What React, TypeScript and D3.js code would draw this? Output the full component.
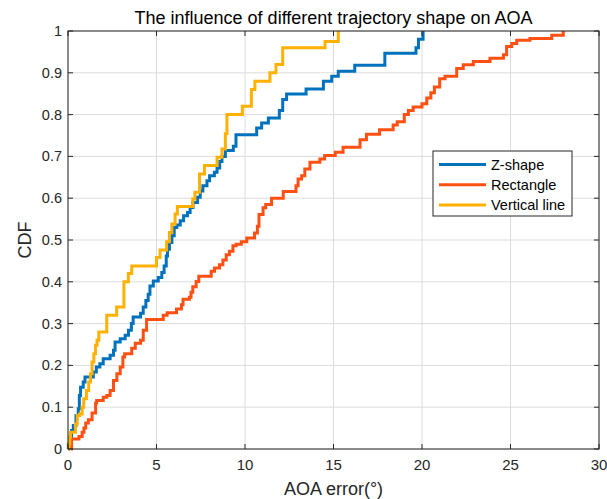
import React from "react";
import * as d3 from "d3";

// Empirical CDF steps: error value (deg) and cumulative probability after the step
const zShapeX = [0.0, 0.02, 0.1, 0.2, 0.3, 0.45, 0.58, 0.64, 0.71, 0.86, 0.96, 1.43, 1.6, 1.8, 1.99, 2.38, 2.57, 2.66, 2.95, 3.23, 3.42, 3.58, 3.68, 4.1, 4.25, 4.4, 4.53, 4.63, 4.82, 5.1, 5.3, 5.43, 5.55, 5.62, 5.73, 5.87, 6.0, 6.15, 6.34, 6.53, 6.75, 6.9, 7.06, 7.32, 7.47, 7.62, 7.85, 8.0, 8.27, 8.42, 8.57, 8.7, 8.89, 9.34, 9.49, 10.66, 10.94, 11.32, 11.94, 12.13, 12.35, 13.45, 14.43, 14.9, 15.27, 16.2, 17.9, 19.66, 19.8, 20.06];
const zShapeY = [0, 0.012, 0.028, 0.044, 0.056, 0.08, 0.096, 0.128, 0.148, 0.16, 0.172, 0.184, 0.196, 0.204, 0.216, 0.224, 0.236, 0.256, 0.264, 0.272, 0.284, 0.3, 0.316, 0.325, 0.34, 0.355, 0.37, 0.39, 0.402, 0.41, 0.422, 0.438, 0.462, 0.478, 0.494, 0.51, 0.53, 0.536, 0.546, 0.558, 0.566, 0.578, 0.59, 0.602, 0.617, 0.63, 0.642, 0.654, 0.662, 0.672, 0.688, 0.7, 0.714, 0.724, 0.752, 0.768, 0.78, 0.792, 0.81, 0.836, 0.849, 0.861, 0.88, 0.892, 0.904, 0.918, 0.947, 0.96, 0.98, 1.0];

const rectangleX = [0.17, 0.2, 0.62, 0.8, 0.9, 1.0, 1.15, 1.36, 1.56, 1.62, 1.99, 2.19, 2.38, 2.57, 2.76, 2.95, 3.1, 3.2, 3.6, 3.8, 4.1, 4.25, 4.44, 5.38, 5.6, 6.13, 6.41, 6.5, 6.86, 6.95, 7.05, 7.24, 7.39, 8.09, 8.28, 8.56, 8.75, 8.94, 9.12, 9.32, 9.5, 9.79, 10.1, 10.54, 10.7, 10.79, 11.02, 11.17, 11.5, 12.16, 12.88, 13.0, 13.2, 13.38, 13.67, 14.23, 14.5, 15.1, 15.54, 16.5, 16.86, 17.6, 18.37, 18.6, 19.0, 19.23, 19.5, 20.0, 20.27, 20.5, 20.7, 21.0, 21.3, 21.96, 22.33, 22.9, 23.84, 24.6, 24.78, 25.07, 25.35, 26.1, 27.33, 27.98];
const rectangleY = [0, 0.024, 0.03, 0.04, 0.05, 0.062, 0.07, 0.086, 0.11, 0.116, 0.124, 0.128, 0.14, 0.164, 0.18, 0.196, 0.22, 0.228, 0.241, 0.253, 0.26, 0.284, 0.31, 0.32, 0.326, 0.335, 0.345, 0.358, 0.363, 0.375, 0.388, 0.401, 0.413, 0.425, 0.433, 0.441, 0.452, 0.465, 0.473, 0.486, 0.49, 0.496, 0.505, 0.517, 0.533, 0.561, 0.577, 0.585, 0.6, 0.616, 0.63, 0.646, 0.654, 0.67, 0.686, 0.694, 0.702, 0.71, 0.722, 0.74, 0.753, 0.764, 0.775, 0.783, 0.8, 0.81, 0.818, 0.826, 0.84, 0.852, 0.866, 0.886, 0.892, 0.91, 0.919, 0.927, 0.935, 0.943, 0.963, 0.97, 0.978, 0.982, 0.99, 1.0];

const verticalX = [0.0, 0.05, 0.1, 0.14, 0.42, 0.52, 0.65, 0.8, 0.89, 1.04, 1.17, 1.27, 1.36, 1.46, 1.55, 1.64, 1.74, 2.19, 2.75, 3.16, 3.41, 3.6, 5.0, 5.2, 5.57, 5.73, 5.87, 6.05, 6.18, 7.05, 7.17, 7.43, 7.71, 8.42, 8.7, 8.89, 8.98, 9.85, 10.36, 10.56, 11.41, 11.75, 12.13, 14.52, 15.27];
const verticalY = [0, 0.012, 0.028, 0.04, 0.06, 0.08, 0.084, 0.1, 0.12, 0.14, 0.16, 0.18, 0.208, 0.228, 0.248, 0.26, 0.28, 0.32, 0.34, 0.4, 0.42, 0.438, 0.458, 0.476, 0.496, 0.518, 0.538, 0.562, 0.58, 0.598, 0.614, 0.658, 0.678, 0.698, 0.718, 0.754, 0.8, 0.82, 0.86, 0.88, 0.9, 0.92, 0.96, 0.975, 1.0];

const seriesNames = ["Z-shape", "Rectangle", "Vertical line"];
const seriesColors = ["#0072BD", "#FF5014", "#FFB000"];
const xTicks = [0, 5, 10, 15, 20, 25, 30];
const yTicks = [0, 0.1, 0.2, 0.3, 0.4, 0.5, 0.6, 0.7, 0.8, 0.9, 1];

const W = 607;
const H = 499;
const margin = { left: 68, right: 8, top: 31, bottom: 50 };
const FONT = "'Liberation Sans', Arial, Helvetica, sans-serif";
const AXIS = "#262626";

export default function App() {
  const x = d3.scaleLinear().domain([0, 30]).range([margin.left, W - margin.right]);
  const y = d3.scaleLinear().domain([0, 1]).range([H - margin.bottom, margin.top]);
  const x0 = x.range()[0], x1 = x.range()[1];
  const y0 = y.range()[0], y1 = y.range()[1];

  const line = d3
    .line<[number, number]>()
    .x((d) => x(d[0]))
    .y((d) => y(d[1]))
    .curve(d3.curveStepAfter);

  const series = [
    { xs: zShapeX, ys: zShapeY },
    { xs: rectangleX, ys: rectangleY },
    { xs: verticalX, ys: verticalY },
  ].map((s) => s.xs.map((v, i) => [v, s.ys[i]] as [number, number]));

  const tickLen = 5;
  const legend = { x: 433, y: 151, w: 139, h: 65 };

  return (
    <svg
      width={W}
      height={H}
      style={{ position: "absolute", left: 0, top: 0, background: "#fff" }}
      fontFamily={FONT}
    >
      <rect x={0} y={0} width={W} height={H} fill="#fff" />
      {/* grid */}
      {xTicks.map((t) => (
        <line key={"gx" + t} x1={x(t)} x2={x(t)} y1={y0} y2={y1} stroke="#dcdcdc" strokeWidth={1} />
      ))}
      {yTicks.map((t) => (
        <line key={"gy" + t} x1={x0} x2={x1} y1={y(t)} y2={y(t)} stroke="#dcdcdc" strokeWidth={1} />
      ))}
      {/* CDF curves */}
      {series.map((pts, i) => (
        <path
          key={seriesNames[i]}
          d={line(pts) || ""}
          fill="none"
          stroke={seriesColors[i]}
          strokeWidth={3}
          strokeLinejoin="miter"
        />
      ))}
      {/* axes box with inward ticks */}
      <rect x={x0} y={y1} width={x1 - x0} height={y0 - y1} fill="none" stroke={AXIS} strokeWidth={1} />
      {xTicks.map((t) => (
        <g key={"tx" + t}>
          <line x1={x(t)} x2={x(t)} y1={y0} y2={y0 - tickLen} stroke={AXIS} />
          <line x1={x(t)} x2={x(t)} y1={y1} y2={y1 + tickLen} stroke={AXIS} />
          <text x={x(t)} y={y0 + 21} textAnchor="middle" fontSize={15} fill={AXIS}>
            {t}
          </text>
        </g>
      ))}
      {yTicks.map((t) => (
        <g key={"ty" + t}>
          <line x1={x0} x2={x0 + tickLen} y1={y(t)} y2={y(t)} stroke={AXIS} />
          <line x1={x1} x2={x1 - tickLen} y1={y(t)} y2={y(t)} stroke={AXIS} />
          <text x={x0 - 6} y={y(t) + 5} textAnchor="end" fontSize={14.5} fill={AXIS}>
            {String(t)}
          </text>
        </g>
      ))}
      {/* title and labels */}
      <text x={(x0 + x1) / 2} y={24} textAnchor="middle" fontSize={18} fill="#000">
        The influence of different trajectory shape on AOA
      </text>
      <text x={(x0 + x1) / 2} y={H - 4} textAnchor="middle" fontSize={18} fill={AXIS}>
        AOA error(°)
      </text>
      <text
        transform={`translate(${31},${(y0 + y1) / 2}) rotate(-90)`}
        textAnchor="middle"
        fontSize={18}
        fill={AXIS}
      >
        CDF
      </text>
      {/* legend */}
      <rect x={legend.x} y={legend.y} width={legend.w} height={legend.h} fill="#fff" stroke={AXIS} strokeWidth={1} />
      {seriesNames.map((n, i) => {
        const ly = legend.y + 13.5 + i * 20.3;
        return (
          <g key={"lg" + n}>
            <line x1={legend.x + 6} x2={legend.x + 53} y1={ly} y2={ly} stroke={seriesColors[i]} strokeWidth={3} />
            <text x={legend.x + 58} y={ly + 5} fontSize={14.5} fill="#000">
              {n}
            </text>
          </g>
        );
      })}
    </svg>
  );
}
